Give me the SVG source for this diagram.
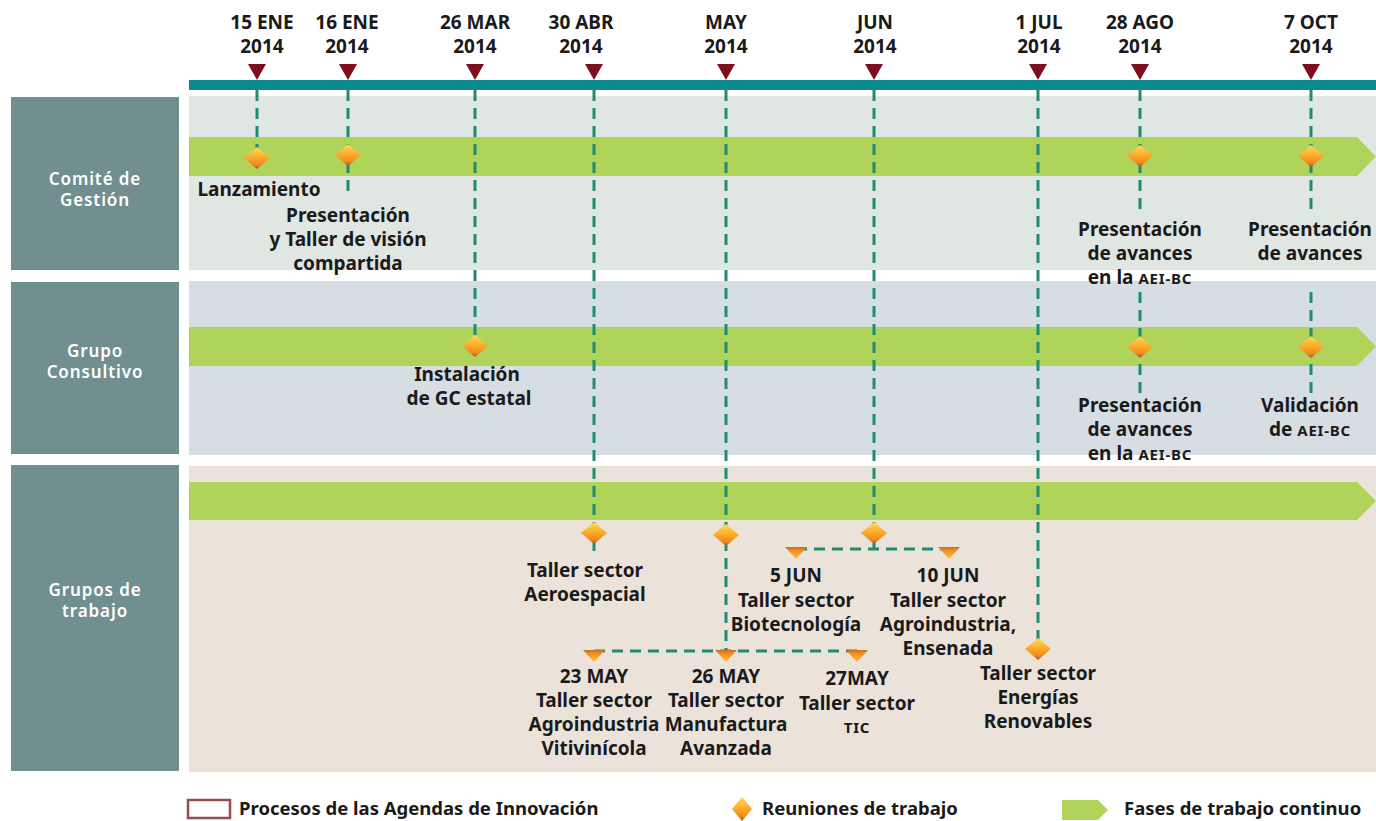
<svg xmlns="http://www.w3.org/2000/svg" width="1376" height="821" viewBox="0 0 1376 821">
<defs>
<linearGradient id="dg" x1="0" y1="0" x2="0" y2="1">
<stop offset="0" stop-color="#ffdc55"/>
<stop offset="0.45" stop-color="#fbae2c"/>
<stop offset="0.8" stop-color="#f08a1c"/>
<stop offset="1" stop-color="#9a5a2a"/>
</linearGradient>
<linearGradient id="tg" x1="0" y1="0" x2="0" y2="1">
<stop offset="0" stop-color="#b8702e"/>
<stop offset="0.25" stop-color="#f08a1c"/>
<stop offset="1" stop-color="#ffc040"/>
</linearGradient>
<style>
.lab{fill:#728f8f}
.lt{font-family:"Noto Sans","Open Sans",sans-serif;font-weight:600;font-size:17px;letter-spacing:0.9px;fill:#ffffff;text-anchor:middle}
.t{font-family:"Noto Sans","Open Sans",sans-serif;font-weight:700;font-size:19px;fill:#1a1a1a;text-anchor:middle}
.sc{font-size:15px;letter-spacing:0.8px}
.dash{stroke:#1f8b74;stroke-width:3;stroke-dasharray:11 7;fill:none}
.mk{fill:#7d0f1c}
.dm{fill:url(#dg)}
.st{fill:url(#tg)}
.bar{fill:#b0d35a}
.leg{font-family:"Noto Sans","Open Sans",sans-serif;font-weight:700;font-size:18.5px;fill:#1a1a1a}
</style>
</defs>
<rect width="1376" height="821" fill="#ffffff"/>

<g id="panels">
<rect x="189" y="96" width="1187" height="174" fill="#e0e6e2"/>
<rect x="189" y="281" width="1187" height="174" fill="#d6dde3"/>
<rect x="189" y="466" width="1187" height="306" fill="#ebe3da"/>
<polygon class="bar" points="189,137 1357,137 1376,156.5 1357,176 189,176"/>
<polygon class="bar" points="189,327 1357,327 1376,346.5 1357,366 189,366"/>
<polygon class="bar" points="189,482 1357,482 1376,501 1357,520 189,520"/>
<rect x="189" y="80" width="1187" height="10" fill="#0a8a8f"/>
</g>

<g id="lane-comite">
<rect class="lab" x="11" y="97" width="168" height="173"/>
<text class="lt" x="95" y="184.5">Comité de<tspan x="95" dy="21.5">Gestión</tspan></text>
</g>
<g id="lane-grupo">
<rect class="lab" x="11" y="282" width="168" height="172"/>
<text class="lt" x="95" y="356.5">Grupo<tspan x="95" dy="21.5">Consultivo</tspan></text>
</g>
<g id="lane-grupos">
<rect class="lab" x="11" y="465" width="168" height="306"/>
<text class="lt" x="95" y="595.5">Grupos de<tspan x="95" dy="21.5">trabajo</tspan></text>
</g>

<g id="connectors">
<line class="dash" x1="257" y1="90" x2="257" y2="150"/>
<line class="dash" x1="348" y1="90" x2="348" y2="196"/>
<line class="dash" x1="475" y1="90" x2="475" y2="340"/>
<line class="dash" x1="594" y1="90" x2="594" y2="553"/>
<line class="dash" x1="726" y1="90" x2="726" y2="651"/>
<line class="dash" x1="874" y1="90" x2="874" y2="549"/>
<line class="dash" x1="1038" y1="90" x2="1038" y2="645"/>
<line class="dash" x1="1140" y1="90" x2="1140" y2="211"/>
<line class="dash" x1="1140" y1="292" x2="1140" y2="393"/>
<line class="dash" x1="1311" y1="90" x2="1311" y2="209"/>
<line class="dash" x1="1311" y1="292" x2="1311" y2="393"/>
<line class="dash" x1="796" y1="549" x2="949" y2="549"/>
<line class="dash" x1="594" y1="651" x2="857" y2="651"/>
</g>

<g id="markers">
<polygon class="mk" points="248,64 266,64 257,80"/>
<polygon class="mk" points="339,64 357,64 348,80"/>
<polygon class="mk" points="466,64 484,64 475,80"/>
<polygon class="mk" points="585,64 603,64 594,80"/>
<polygon class="mk" points="717,64 735,64 726,80"/>
<polygon class="mk" points="865,64 883,64 874,80"/>
<polygon class="mk" points="1029,64 1047,64 1038,80"/>
<polygon class="mk" points="1131,64 1149,64 1140,80"/>
<polygon class="mk" points="1302,64 1320,64 1311,80"/>
</g>

<g id="dates">
<text class="t" x="262" y="29">15 ENE</text><text class="t" x="262" y="53">2014</text>
<text class="t" x="347" y="29">16 ENE</text><text class="t" x="347" y="53">2014</text>
<text class="t" x="475" y="29">26 MAR</text><text class="t" x="475" y="53">2014</text>
<text class="t" x="581" y="29">30 ABR</text><text class="t" x="581" y="53">2014</text>
<text class="t" x="726" y="29">MAY</text><text class="t" x="726" y="53">2014</text>
<text class="t" x="875" y="29">JUN</text><text class="t" x="875" y="53">2014</text>
<text class="t" x="1039" y="29">1 JUL</text><text class="t" x="1039" y="53">2014</text>
<text class="t" x="1140" y="29">28 AGO</text><text class="t" x="1140" y="53">2014</text>
<text class="t" x="1311" y="29">7 OCT</text><text class="t" x="1311" y="53">2014</text>
</g>

<g id="ev-lanzamiento">
<polygon class="dm" points="244,158 257,147 270,158 257,169"/>
<text class="t" x="259" y="196">Lanzamiento</text>
</g>
<g id="ev-presentacion">
<polygon class="dm" points="335,155 348,144 361,155 348,166"/>
<text class="t" x="348" y="222">Presentación</text>
<text class="t" x="348" y="246">y Taller de visión</text>
<text class="t" x="348" y="270">compartida</text>
</g>
<g id="ev-cg-28ago">
<polygon class="dm" points="1127,156 1140,145 1153,156 1140,167"/>
<text class="t" x="1140" y="236">Presentación</text>
<text class="t" x="1140" y="260">de avances</text>
<text class="t" x="1140" y="284">en la <tspan class="sc">AEI-BC</tspan></text>
</g>
<g id="ev-cg-7oct">
<polygon class="dm" points="1298,156 1311,145 1324,156 1311,167"/>
<text class="t" x="1310" y="236">Presentación</text>
<text class="t" x="1310" y="260">de avances</text>
</g>
<g id="ev-instalacion">
<polygon class="dm" points="462,346 475,335 488,346 475,357"/>
<text class="t" x="467" y="381">Instalación</text>
<text class="t" x="469" y="405">de GC estatal</text>
</g>
<g id="ev-gc-28ago">
<polygon class="dm" points="1127,347 1140,336 1153,347 1140,358"/>
<text class="t" x="1140" y="412">Presentación</text>
<text class="t" x="1140" y="436">de avances</text>
<text class="t" x="1140" y="460">en la <tspan class="sc">AEI-BC</tspan></text>
</g>
<g id="ev-validacion">
<polygon class="dm" points="1298,347 1311,336 1324,347 1311,358"/>
<text class="t" x="1310" y="412">Validación</text>
<text class="t" x="1310" y="436">de <tspan class="sc">AEI-BC</tspan></text>
</g>
<g id="ev-aeroespacial">
<polygon class="dm" points="581,533 594,522 607,533 594,544"/>
<text class="t" x="585" y="577">Taller sector</text>
<text class="t" x="585" y="601">Aeroespacial</text>
</g>
<g id="ev-may">
<polygon class="dm" points="713,535 726,524 739,535 726,546"/>
</g>
<g id="ev-jun">
<polygon class="dm" points="861,533 874,522 887,533 874,544"/>
</g>
<g id="ev-5jun">
<polygon class="st" points="785,547 807,547 796,559"/>
<text class="t" x="796" y="582">5 JUN</text>
<text class="t" x="796" y="607">Taller sector</text>
<text class="t" x="796" y="631">Biotecnología</text>
</g>
<g id="ev-10jun">
<polygon class="st" points="938,547 960,547 949,559"/>
<text class="t" x="948" y="582">10 JUN</text>
<text class="t" x="948" y="607">Taller sector</text>
<text class="t" x="948" y="631">Agroindustria,</text>
<text class="t" x="948" y="655">Ensenada</text>
</g>
<g id="ev-23may">
<polygon class="st" points="583,650 605,650 594,662"/>
<text class="t" x="594" y="683">23 MAY</text>
<text class="t" x="594" y="707">Taller sector</text>
<text class="t" x="594" y="731">Agroindustria</text>
<text class="t" x="594" y="755">Vitivinícola</text>
</g>
<g id="ev-26may">
<polygon class="st" points="715,650 737,650 726,662"/>
<text class="t" x="726" y="683">26 MAY</text>
<text class="t" x="726" y="707">Taller sector</text>
<text class="t" x="726" y="731">Manufactura</text>
<text class="t" x="726" y="755">Avanzada</text>
</g>
<g id="ev-27may">
<polygon class="st" points="846,650 868,650 857,662"/>
<text class="t" x="857" y="685">27MAY</text>
<text class="t" x="857" y="710">Taller sector</text>
<text class="t" x="857" y="733"><tspan class="sc">TIC</tspan></text>
</g>
<g id="ev-energias">
<polygon class="dm" points="1025,649 1038,638 1051,649 1038,660"/>
<text class="t" x="1038" y="680">Taller sector</text>
<text class="t" x="1038" y="704">Energías</text>
<text class="t" x="1038" y="728">Renovables</text>
</g>

<g id="legend">
<rect x="188" y="800" width="42" height="18" fill="#ffffff" stroke="#9b4a4a" stroke-width="2.5"/>
<text class="leg" x="239" y="815">Procesos de las Agendas de Innovación</text>
<polygon class="dm" points="732,809 742,797 752,809 742,821"/>
<text class="leg" x="762" y="815">Reuniones de trabajo</text>
<polygon class="bar" points="1062,800 1098,800 1108,810 1098,820 1062,820"/>
<text class="leg" x="1124" y="815">Fases de trabajo continuo</text>
</g>
</svg>
